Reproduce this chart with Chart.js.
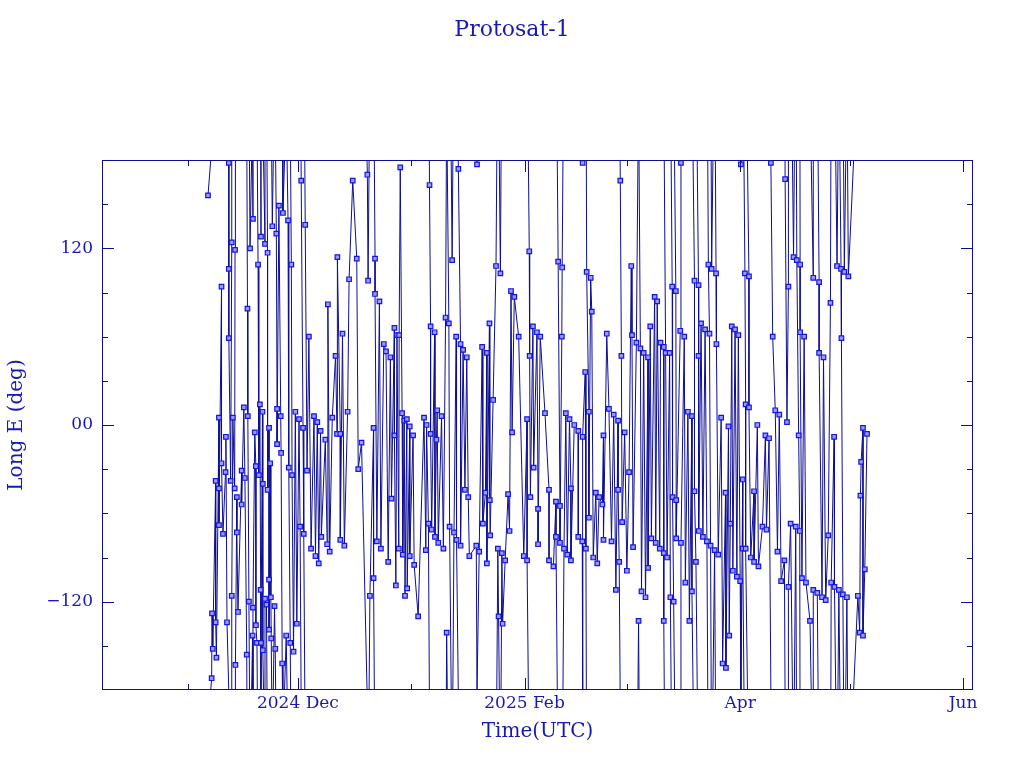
<!DOCTYPE html>
<html lang="en">
<head>
    <meta charset="UTF-8">
    <title>Protosat-1</title>
    <script src="https://cdn.jsdelivr.net/npm/chart.js"></script>
    <style>
        html, body { margin: 0; padding: 0; background: #fff; }
        #wrap { width: 1024px; height: 768px; }
    </style>
</head>
<body>
<div id="wrap"><canvas id="grafico" width="1024" height="768"></canvas></div>
<script>
    // dias desde 2024-12-01 00:00 UTC / longitude leste (graus)
    const dayOffsets = [
        -24.6, -18.9, -18.1, -17.2, -18.9, -20.9, -18.9, -13.8, -12.3, -10.1, -13.1, -9.0, -8.3, -10.9,
        -14.8, -13.7, -10.4, -9.7, -17.8, -19.7, -21.6, -7.9, -11.8, -20.9, -19.8, -22.5, -18.4, -15.4,
        -14.5, -11.5, -10.7, -9.6, -8.3, -21.6, -17.3, -16.7, -15.4, -21.6, -20.5, -16.7, -7.9, -18.1,
        -13.4, -12.3, -10.2, -9.0, -8.6, -16.4, -23.5, -22.5, -19.4, -11.5, -7.9, -12.4, -23.3, -22.3,
        -11.2, -10.1, -14.0, -9.6, -17.1, -23.6,
        0.9, -5.2, -4.1, -2.7, -7.0, 2.0, -5.9, -1.8, 10.8, 8.2, 3.0, 10.3, -5.7, -4.7, -0.7, 0.3, 1.4,
        4.4, 5.3, 6.2, 7.5, 9.4, 10.7, -5.7, -4.6, -7.6, -2.5, -1.6, 2.5, 0.6, 1.6, 3.6, 4.8, 5.7, 6.4,
        8.0, 8.7, -7.4, -6.4, -0.3, -7.3, -6.2, -3.2, -2.1, -1.2, -4.3,
        28.0, 19.0, 15.0, 16.1, 21.1, 14.0, 19.2, 21.1, 22.3, 12.2, 26.4, 27.1, 27.7, 23.5, 24.1, 25.3,
        13.6, 11.6, 28.5, 29.1, 20.7, 26.4, 17.4, 16.5, 25.6, 11.6, 12.7, 21.6, 22.7, 27.6, 28.7, 24.7,
        20.7, 26.8, 19.7, 29.3,
        43.9, 36.0, 42.2, 36.3, 37.4, 40.4, 41.3, 43.3, 44.5, 45.2, 46.2, 38.1, 39.3, 29.8, 30.6, 31.5,
        34.5, 35.2, 36.3, 37.9, 45.7, 46.6, 35.7, 36.6, 37.5, 38.4, 39.8, 41.5, 42.7, 43.4, 44.5, 35.0,
        46.9, 30.6, 31.8, 29.9, 32.9, 40.7,
        49.0, 63.3, 54.2, 55.4, 58.3, 59.2, 52.4, 64.3, 65.4, 66.3, 50.4, 51.7, 60.4, 63.4, 53.4, 62.7,
        58.6, 64.5, 51.3, 52.5, 57.5, 63.6, 65.7, 50.6, 52.6, 57.9, 48.8, 49.6, 51.7, 54.7, 55.8, 56.7,
        61.8, 62.7, 65.7, 54.9, 56.0,
        77.9, 71.2, 72.3, 79.0, 80.1, 80.4, 72.2, 84.5, 78.6, 67.6, 79.6, 73.3, 74.3, 75.6, 76.7, 77.9,
        83.6, 85.1, 68.7, 74.7, 70.6, 71.7, 81.5, 82.4, 83.3, 79.6, 70.6, 71.7, 76.7, 77.8, 78.8, 72.8,
        73.7, 74.7, 83.6, 68.7, 69.9, 80.8, 81.9,
        88.2, 91.2, 97.6, 98.3, 102.4, 103.4, 96.4, 91.4, 92.6, 93.7, 94.6, 95.8, 99.2, 100.1, 100.6,
        101.7, 88.5, 86.4, 87.6, 89.4, 90.6, 87.6, 102.5, 103.5, 88.7, 85.8, 91.7, 96.7, 97.9, 99.0,
        100.1, 101.0, 103.5, 87.9, 90.0, 95.8, 87.0, 94.0, 95.1, 101.9, 102.8, 93.2, 100.1,
        104.8, 121.2, 112.3, 113.2, 114.4, 108.5, 109.6, 122.3, 110.3, 111.4, 112.6, 104.6, 105.7, 114.5,
        118.7, 119.6, 120.5, 109.6, 106.7, 107.8, 115.8, 117.8, 108.5, 117.0, 121.7, 118.3, 109.7, 110.8,
        111.9, 112.9, 114.0, 115.0, 104.8, 108.9, 121.7, 119.0, 120.1, 121.0, 106.0, 107.8, 107.1, 118.0,
        116.2, 117.1,
        129.4, 133.3, 135.6, 136.5, 137.4, 134.2, 141.0, 123.4, 129.9, 137.4, 138.5, 122.5, 123.4, 130.6,
        131.7, 125.7, 127.9, 128.9, 133.8, 137.0, 124.8, 127.1, 128.2, 134.8, 136.2, 137.3, 122.5, 123.9,
        124.8, 126.0, 131.2, 133.1, 132.2, 134.2, 137.9, 139.0, 141.0, 140.1,
        147.5, 148.6, 149.5, 150.6, 142.6, 145.7, 148.7, 142.6, 143.8, 146.7, 154.6, 155.7, 154.1, 153.9,
        145.1, 155.1, 142.1, 143.4, 144.4, 145.9, 146.8, 148.0, 149.1, 150.2, 153.2, 153.7, 154.6
    ];
    const longitudes = [
        156, 178, 124, 119, 106, 94, 59, 79, 140, 128, 120, 123, 117, 109,
        12, 6, 14, 9, 5, -8, 5, -2, -5, -26, -32, -38, -38, -31,
        -36, -28, -34, -40, -44, -43, -43, -49, -54, -68, -74, -73, -105, -116,
        -120, -124, -112, -118, -122, -127, -128, -134, -134, -136, -139, -143, -152, -158,
        -148, -148, -156, -153, -163, -172,
        166, 149, 144, 139, 135, 136, 130, 109, 114, 82, 60, 47, 11, 6, 9, 4, -2,
        6, 2, -4, -10, 5, -6, -13, -19, -26, -29, -34, -31, -69, -74, -84, -89, -94, -76,
        -81, -86, -117, -123, -135, -145, -152, -143, -148, -154, -162,
        175, 170, 166, 113, 113, 99, 98, 89, 84, 62, 66, 61, 61, 55, 50, 46,
        9, -6, 8, 3, -2, -7, -12, -30, -50, -78, -82, -79, -84, -84, -88, -93,
        -104, -109, -116, -116,
        174, 163, 112, 67, 63, 73, 69, 60, 55, 51, 46, 10, 6, 4, -1, -7,
        5, 0, -6, -10, -44, -49, -67, -71, -76, -80, -84, -69, -73, -78, -82, -85,
        -89, -89, -95, -111, -130, -141,
        177, 118, 108, 103, 91, 87, 69, 67, 63, 60, 53, 49, 60, 47, 17, 4,
        -5, -29, -46, -51, -47, -49, -57, -67, -75, -72, -82, -86, -94, -84, -87, -92,
        -89, -92, -81, -130, -135,
        178, 111, 107, 104, 100, 77, 60, 62, 36, 8, 9, 8, 4, 0, -4, -8,
        -7, 11, -44, -43, -52, -55, -46, -49, -54, -63, -76, -80, -76, -79, -84, -84,
        -88, -92, -78, -92, -96, -90, -94,
        166, 108, 87, 84, 94, 91, 67, 61, 56, 52, 49, 46, 56, 53, 49,
        49, 47, 7, 3, -5, -32, -44, -49, -51, -66, -79, -83, -77, -80, -84,
        -87, -90, -77, -93, -99, -97, -112, -113, -117, -117, -120, -133, -133,
        178, 177, 109, 106, 103, 98, 95, 103, 69, 65, 62, 64, 60, 55,
        67, 65, 61, 47, 9, 6, 5, -1, -45, -46, -37, -67, -72, -76,
        -79, -82, -85, -88, -80, -93, -84, -99, -103, -106, -107, -113, -133, -143,
        -162, -165,
        178, 167, 114, 112, 109, 94, 100, 101, 60, 63, 60, 14, 12, 10,
        7, 0, -7, -9, 2, -7, -45, -69, -71, -67, -69, -72, -84, -90,
        -93, -96, -86, -92, -106, -110, -104, -107, -112, -133,
        108, 106, 104, 101, 97, 83, 59, 49, 46, -8, -2, -6, -25, -48,
        -75, -98, -114, -117, -119, -107, -110, -112, -115, -117, -116, -141, -143
    ];

    // eixos
    const xMin = -53.6, xMax = 184.7;
    const xTickDays = [0, 62, 121, 182];
    const xTickLabels = ['2024 Dec', '2025 Feb', 'Apr', 'Jun'];
    const xMinorDays = [-30, 31, 90, 151];
    const yMajor = [-120, 0, 120];
    const yMinor = [-150, -90, -60, -30, 30, 60, 90, 150];

    const AZUL_TXT = '#1818b4';
    const AZUL_LIN = '#0e0e90';
    const AZUL_PT = '#1414e6';
    const FONTE = "'DejaVu Serif', serif";

    // ordena no tempo e, quando o salto passa de 180 graus, a linha sai
    // por uma borda e volta pela outra (como no plot original)
    const ordem = dayOffsets.map((d, i) => i).sort((a, b) => dayOffsets[a] - dayOffsets[b]);
    const pontos = [];
    ordem.forEach((i, k) => {
        const x = dayOffsets[i], y = longitudes[i];
        if (k > 0) {
            const j = ordem[k - 1], px = dayOffsets[j], py = longitudes[j];
            if (Math.abs(y - py) > 180) {
                const s = py > y ? 360 : -360;
                pontos.push({x: x, y: y + s}, {x: x, y: null}, {x: px, y: py - s});
            }
        }
        pontos.push({x: x, y: y});
    });

    const moldura = {
        id: 'moldura',
        afterDraw(chart) {
            const {ctx, chartArea: a, scales: {x, y}} = chart;
            ctx.save();
            ctx.strokeStyle = AZUL_LIN;
            ctx.lineWidth = 1;
            ctx.strokeRect(a.left + 0.5, a.top + 0.5, a.right - a.left - 1, a.bottom - a.top - 1);
            ctx.beginPath();
            const yt = (v, len) => {
                const p = Math.round(y.getPixelForValue(v)) + 0.5;
                ctx.moveTo(a.left, p); ctx.lineTo(a.left + len, p);
                ctx.moveTo(a.right, p); ctx.lineTo(a.right - len, p);
            };
            const xt = (v, len) => {
                const p = Math.round(x.getPixelForValue(v)) + 0.5;
                if (p < a.left || p > a.right) return;
                ctx.moveTo(p, a.top); ctx.lineTo(p, a.top + len);
                ctx.moveTo(p, a.bottom); ctx.lineTo(p, a.bottom - len);
            };
            yMajor.forEach(v => yt(v, 12));
            yMinor.forEach(v => yt(v, 6));
            xTickDays.forEach(v => xt(v, 12));
            xMinorDays.forEach(v => xt(v, 6));
            ctx.stroke();
            ctx.restore();
        }
    };

    new Chart(document.getElementById('grafico'), {
        type: 'line',
        data: {
            datasets: [{
                label: 'Protosat-1',
                data: pontos,
                borderColor: AZUL_LIN,
                borderWidth: 1,
                tension: 0,
                spanGaps: false,
                pointStyle: 'rect',
                pointRadius: c => (c.raw && c.raw.y !== null && Math.abs(c.raw.y) <= 180) ? 3.2 : 0,
                pointBorderColor: AZUL_PT,
                pointBorderWidth: 1.2,
                pointBackgroundColor: '#9a9aff'
            }]
        },
        options: {
            responsive: false,
            animation: false,
            devicePixelRatio: 1,
            layout: { padding: 0 },
            plugins: {
                legend: { display: false },
                tooltip: { enabled: false },
                title: {
                    display: true,
                    text: 'Protosat-1',
                    color: AZUL_TXT,
                    font: { family: FONTE, size: 22, weight: 'normal' },
                    padding: { top: 17, bottom: 116.6 }
                }
            },
            scales: {
                x: {
                    type: 'linear',
                    min: xMin,
                    max: xMax,
                    afterBuildTicks: s => { s.ticks = xTickDays.map(v => ({value: v})); },
                    afterFit: s => { s.height = 78; },
                    grid: { display: false, drawTicks: false },
                    border: { display: false },
                    ticks: {
                        color: AZUL_TXT,
                        font: { family: FONTE, size: 17 },
                        padding: 3,
                        maxRotation: 0,
                        autoSkip: false,
                        callback: v => xTickLabels[xTickDays.indexOf(v)]
                    },
                    title: {
                        display: true,
                        text: 'Time(UTC)',
                        color: AZUL_TXT,
                        font: { family: FONTE, size: 20 },
                        padding: { top: 0, bottom: 24 }
                    }
                },
                y: {
                    type: 'linear',
                    min: -180,
                    max: 180,
                    afterBuildTicks: s => { s.ticks = yMajor.map(v => ({value: v})); },
                    afterFit: s => { s.width = 102; },
                    grid: { display: false, drawTicks: false },
                    border: { display: false },
                    ticks: {
                        color: AZUL_TXT,
                        font: { family: FONTE, size: 17 },
                        padding: 9,
                        callback: v => v === 0 ? '00' : (v < 0 ? '\u2212' + Math.abs(v) : String(v))
                    },
                    title: {
                        display: true,
                        text: 'Long E (deg)',
                        color: AZUL_TXT,
                        font: { family: FONTE, size: 20 },
                        padding: { top: 5, bottom: 0 }
                    }
                },
                yDir: {
                    type: 'linear',
                    position: 'right',
                    min: -180,
                    max: 180,
                    afterFit: s => { s.width = 51; },
                    grid: { display: false, drawTicks: false },
                    border: { display: false },
                    ticks: { display: false }
                }
            }
        },
        plugins: [moldura]
    });
</script>
</body>
</html>
